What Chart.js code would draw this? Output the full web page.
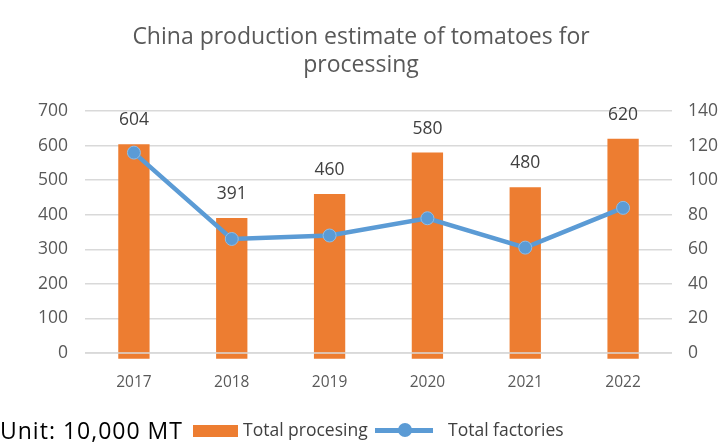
<!DOCTYPE html>
<html>
<head>
<meta charset="utf-8">
<script src="https://cdn.jsdelivr.net/npm/chart.js@4"></script>
<style>
  html, body { margin: 0; padding: 0; background: #fff; }
  #wrap { position: relative; width: 722px; height: 444px; }
  #legend { position: absolute; left: 0; top: 416px; height: 28px; width: 722px;
            font-family: "Open Sans", sans-serif; }
  #legend .unit { position: absolute; left: 0; top: 0; font-size: 23px; color: #000; line-height: 28px; letter-spacing: 1px; }
  #legend .item { position: absolute; top: 0; font-size: 17.5px; color: #404040; line-height: 26px; }
  #legend .box { position: absolute; top: 9px; width: 45px; height: 12px; background: #ED7D31; }
  #legend .ln { position: absolute; top: 12px; width: 58px; height: 5px; background: #5B9BD5; }
  #legend .dot { position: absolute; top: 7px; width: 14px; height: 14px; border-radius: 50%; background: #5B9BD5; }
</style>
</head>
<body>
<div id="wrap">
  <canvas id="chart1" width="722" height="444"></canvas>
  <div id="legend">
    <span class="unit">Unit: 10,000 MT</span>
    <span class="box" style="left:193px"></span>
    <span class="item" style="left:243px">Total procesing</span>
    <span class="ln" style="left:375px"></span>
    <span class="dot" style="left:398px"></span>
    <span class="item" style="left:448px">Total factories</span>
  </div>
</div>
<script>
const years = ['2017', '2018', '2019', '2020', '2021', '2022'];
const processing = [604, 391, 460, 580, 480, 620];
const factories = [116, 66, 68, 78, 61, 84];

const FONT = '"Open Sans", sans-serif';

// bar value labels + zero line drawn over the bars
const barLabels = {
    id: 'barLabels',
    afterDatasetsDraw(chart) {
        const ctx = chart.ctx;
        const y = chart.scales.y;
        const area = chart.chartArea;
        ctx.save();
        ctx.strokeStyle = '#d9d9d9';
        ctx.lineWidth = 1.5;
        ctx.beginPath();
        ctx.moveTo(area.left, y.getPixelForValue(0));
        ctx.lineTo(area.right, y.getPixelForValue(0));
        ctx.stroke();

        ctx.fillStyle = '#404040';
        ctx.font = '17.5px ' + FONT;
        ctx.textAlign = 'center';
        ctx.textBaseline = 'middle';
        chart.getDatasetMeta(1).data.forEach(function (bar, i) {
            ctx.fillText(processing[i], bar.x, y.getPixelForValue(processing[i]) - 24);
        });
        ctx.restore();
    }
};

new Chart(document.getElementById('chart1'), {
    data: {
        labels: years,
        datasets: [{
            type: 'line',
            label: 'Total factories',
            data: factories,
            yAxisID: 'y1',
            borderColor: '#5B9BD5',
            backgroundColor: '#5B9BD5',
            borderWidth: 4.5,
            pointRadius: 6.5,
            pointBorderColor: '#8fbde6',
            pointBorderWidth: 1,
            tension: 0,
            order: 0
        }, {
            type: 'bar',
            label: 'Total procesing',
            data: processing,
            yAxisID: 'y',
            backgroundColor: '#ED7D31',
            base: -17,
            clip: false,
            barPercentage: 0.64,
            categoryPercentage: 0.5,
            order: 1
        }]
    },
    options: {
        responsive: false,
        animation: false,
        layout: { padding: { bottom: 50, left: 0, right: 0 } },
        plugins: {
            legend: { display: false },
            tooltip: { enabled: false },
            title: {
                display: true,
                text: ['China production estimate of tomatoes for', 'processing'],
                color: '#595959',
                font: { family: FONT, size: 23, weight: 'normal', lineHeight: 1.22 },
                padding: { top: 23, bottom: 32 }
            }
        },
        scales: {
            x: {
                grid: { display: false, drawTicks: false },
                border: { display: false },
                ticks: { color: '#595959', font: { family: FONT, size: 15.5 }, padding: 20 },
                afterFit: function (s) { s.height = 41; }
            },
            y: {
                position: 'left',
                min: 0, max: 700,
                ticks: { stepSize: 100, color: '#595959', font: { family: FONT, size: 17.5 }, padding: 17 },
                grid: { color: '#d9d9d9', lineWidth: 1.5, drawTicks: false },
                border: { display: false },
                afterFit: function (s) { s.width = 85; }
            },
            y1: {
                position: 'right',
                min: 0, max: 140,
                ticks: { stepSize: 20, color: '#595959', font: { family: FONT, size: 17.5 }, padding: 16 },
                grid: { display: false, drawTicks: false },
                border: { display: false },
                afterFit: function (s) { s.width = 50; }
            }
        }
    },
    plugins: [barLabels]
});
</script>
</body>
</html>
